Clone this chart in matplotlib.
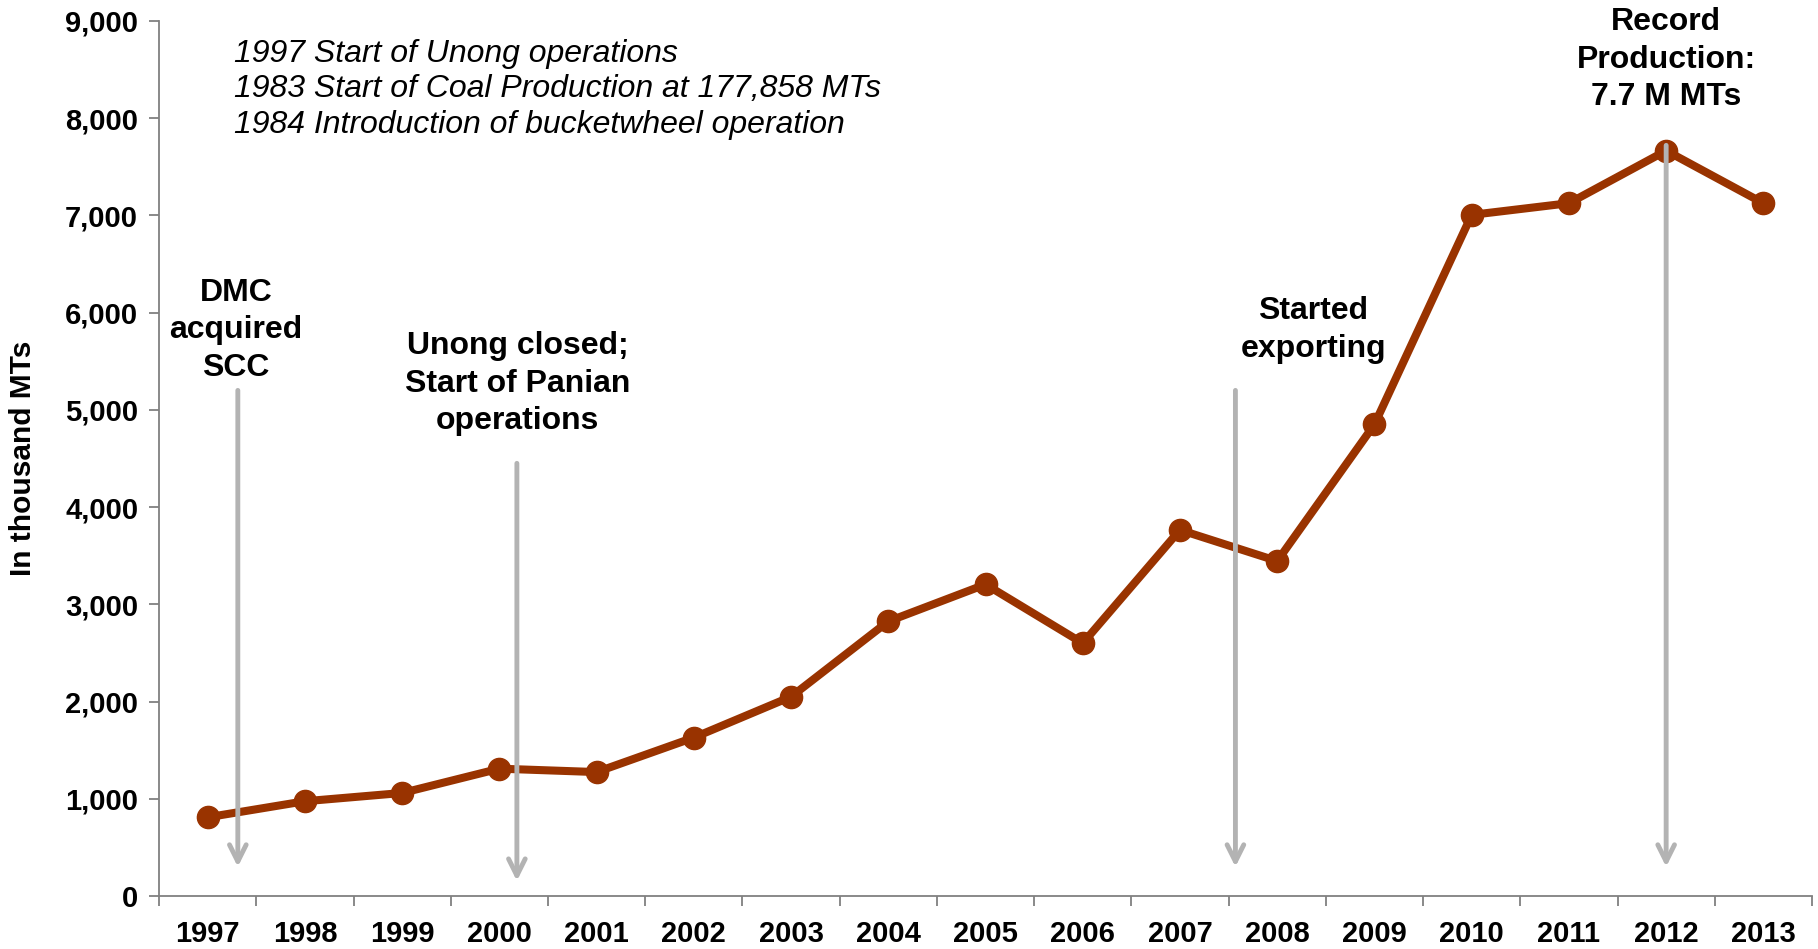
import numpy as np
import matplotlib
matplotlib.use("Agg")
from matplotlib import pyplot as plt

plt.rcParams['font.family'] = ['Liberation Sans', 'DejaVu Sans']

# coal production, thousand MTs
Years = ['1997', '1998', '1999', '2000', '2001', '2002', '2003', '2004', '2005',
         '2006', '2007', '2008', '2009', '2010', '2011', '2012', '2013']
Production = [810, 975, 1060, 1310, 1275, 1630, 2050, 2825, 3205,
              2600, 3765, 3445, 4850, 7005, 7125, 7665, 7125]

# milestone arrows: (x in category units, top, bottom)
Arrow_X = [0.31, 3.18, 10.57, 15.0]
Arrow_Top = [5200, 4450, 5200, 7720]
Arrow_Bottom = [300, 155, 300, 300]

Note_Text = ['DMC\nacquired\nSCC', 'Unong closed;\nStart of Panian\noperations',
             'Started\nexporting', 'Record\nProduction:\n7.7 M MTs']
Note_X = [0.29, 3.19, 11.37, 15.0]
Note_Y = [5816, 5268, 5822, 8600]

History = ['1997 Start of Unong operations',
           '1983 Start of Coal Production at 177,858 MTs',
           '1984 Introduction of bucketwheel operation']

Line_Color = '#993300'
Arrow_Color = '#b3b3b3'

fig = plt.figure(figsize=(18.18, 9.49), dpi=100)
ax = fig.add_axes([0.0875, 0.0558, 0.9092, 0.9222])

X = np.arange(len(Years))
ax.plot(X, Production, color=Line_Color, lw=5.8, marker='o', markersize=16, zorder=3)

for xa, yt, yb in zip(Arrow_X, Arrow_Top, Arrow_Bottom):
    ax.annotate('', xy=(xa, yb), xytext=(xa, yt),
                arrowprops=dict(arrowstyle='->,head_length=0.6,head_width=0.3',
                                color=Arrow_Color, lw=3.5, mutation_scale=20,
                                shrinkA=0, shrinkB=0), zorder=4)

for t, xn, yn in zip(Note_Text, Note_X, Note_Y):
    ax.text(xn, yn, t, ha='center', va='center', multialignment='center',
            fontsize=23, fontweight='bold', linespacing=1.32, zorder=5)

ax.text(0.27, 8296, '\n'.join(History), ha='left', va='center', fontsize=23,
        style='italic', linespacing=1.25)

ax.set_xlim(-0.5, len(Years) - 0.5)
ax.set_ylim(0, 9000)
ax.set_yticks(np.arange(0, 9001, 1000))
ax.set_yticklabels(['{:,}'.format(v) for v in range(0, 9001, 1000)])
ax.set_xticks(X)
ax.set_xticklabels(Years)
ax.set_xticks(np.arange(-0.5, len(Years), 1), minor=True)

ax.tick_params(axis='x', which='major', length=0, pad=17, labelsize=21)
ax.tick_params(axis='x', which='minor', length=7, width=1.3, color='#808080')
ax.tick_params(axis='y', length=7, width=1.3, color='#808080', pad=8, labelsize=21)
for lab in ax.get_xticklabels() + ax.get_yticklabels():
    lab.set_fontweight('bold')

ax.set_ylabel('In thousand MTs', fontsize=21.5, fontweight='bold')
ax.yaxis.set_label_coords(-0.074, 0.5)

for s in ['top', 'right']:
    ax.spines[s].set_visible(False)
for s in ['left', 'bottom']:
    ax.spines[s].set_color('#808080')
    ax.spines[s].set_linewidth(1.3)

fig.savefig('out.png', dpi=100)
